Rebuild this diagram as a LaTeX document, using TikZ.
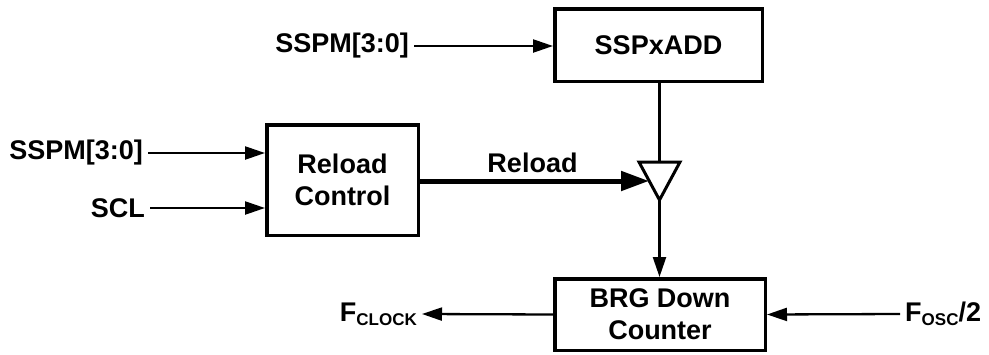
\documentclass[tikz,border=0pt]{standalone}
\usepackage{fontspec}
\setmainfont{Liberation Sans}
\usetikzlibrary{arrows.meta,calc}
\begin{document}
\begin{tikzpicture}[x=1pt,y=-1pt,
  txt/.style={font=\fontsize{27}{32}\selectfont\bfseries},
  blk/.style={txt,draw,line width=3.5pt,align=center,inner sep=0pt},
  lbl/.style={txt,inner xsep=5pt,inner ysep=0pt},
  wire/.style={line width=2.3pt,-{Triangle[length=20pt,width=13pt]}},
  bus/.style={line width=5pt,-{Triangle[length=28pt,width=19pt]}},
  line join=miter]
\useasboundingbox (0,0) rectangle (989,354);

% blocks
\node[blk,minimum width=207.5pt,minimum height=72.5pt] (add) at (658.5,45) {SSPxADD};
\node[blk,minimum width=151.5pt,minimum height=110.5pt] (rc) at (342.5,180) {Reload\\Control};
\node[blk,minimum width=210.5pt,minimum height=71.5pt] (brg) at (660,314.5) {BRG Down\\Counter};

% tri-state buffer
\coordinate (tl) at (639,162);
\coordinate (tr) at (680,162);
\coordinate (ap) at (659.5,200);
\coordinate (ttop) at (659.5,162);
\coordinate (tin) at (649,181);
\draw[line width=3pt] (tl) -- (tr) -- (ap) -- cycle;

% input labels
\node[lbl,anchor=east] (m1) at (414,46) {SSPM[3:0]};
\node[lbl,anchor=east] (m2) at (148,153) {SSPM[3:0]};
\node[lbl,anchor=east] (scl) at (150,208) {SCL};
\node[lbl,anchor=east] (fclk) at (422,314) {F\raisebox{-0.3ex}{\fontsize{17}{17}\selectfont CLOCK}};
\node[lbl,anchor=west] (fosc) at (900,314) {F\raisebox{-0.3ex}{\fontsize{17}{17}\selectfont OSC}/2};

% connections
\draw[wire] (m1.east) -- (add.west |- m1.east);
\draw[wire] (m2.east) -- (rc.west |- m2.east);
\draw[wire] (scl.east) -- (rc.west |- scl.east);
\draw[line width=2.3pt] (add.south -| ttop) -- (ttop);
\draw[bus] (rc.east |- tin) -- node[txt,above=2pt,pos=0.5,xshift=-2pt] (rl) {Reload} (tin);
\draw[wire] (ap) -- (brg.north -| ap);
\draw[wire] (brg.west) -- (fclk.east);
\draw[wire] (fosc.west) -- (brg.east);
\end{tikzpicture}
\end{document}
